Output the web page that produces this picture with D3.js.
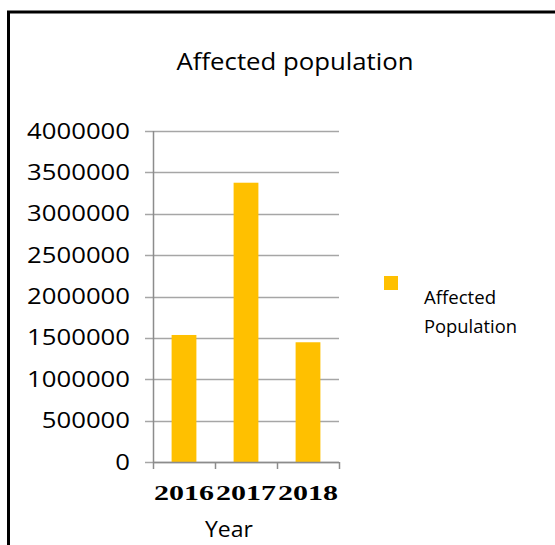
<!DOCTYPE html>
<meta charset="utf-8">
<script src="https://d3js.org/d3.v7.min.js"></script>
<style>
  body { margin: 0; background: #fff; }
  text { font-family: "Open Sans", "Liberation Sans", sans-serif; fill: #000; }
</style>
<div id="my_dataviz"></div>
<script>

// data
var years = ["2016", "2017", "2018"];
var affected = [1535000, 3375000, 1447000];
var yTicks = [0, 500000, 1000000, 1500000, 2000000, 2500000, 3000000, 3500000, 4000000];
var seriesName = ["Affected", "Population"];

var W = 555, H = 545;

var svg = d3.select("#my_dataviz")
  .append("svg")
    .attr("width", W)
    .attr("height", H);

// outer frame (runs off the right and bottom edges)
svg.append("rect")
  .attr("x", 8.5).attr("y", 12)
  .attr("width", 700).attr("height", 700)
  .attr("fill", "none")
  .attr("stroke", "#000")
  .attr("stroke-width", 3);

// plot area
var plot = {left: 153, right: 339, top: 131, bottom: 462};

var x = d3.scaleBand()
  .domain(years)
  .range([plot.left, plot.right])
  .paddingInner(0.6)
  .paddingOuter(0.3);

var y = d3.scaleLinear()
  .domain([0, 4000000])
  .range([plot.bottom, plot.top]);

// gridlines with outward tick on the left
svg.append("g")
  .selectAll("line")
  .data(yTicks)
  .join("line")
    .attr("x1", plot.left - 8)
    .attr("x2", plot.right)
    .attr("y1", function(d) { return Math.round(y(d)) + 0.5; })
    .attr("y2", function(d) { return Math.round(y(d)) + 0.5; })
    .attr("stroke", "#a6a6a6")
    .attr("stroke-width", 1.5);

// y tick labels
svg.append("g")
  .selectAll("text")
  .data(yTicks)
  .join("text")
    .attr("x", 130)
    .attr("y", function(d) { return y(d); })
    .attr("dy", "0.36em")
    .attr("text-anchor", "end")
    .style("font-size", "21px")
    .attr("textLength", function(d) { return String(d).length * 14.7; })
    .attr("lengthAdjust", "spacingAndGlyphs")
    .text(function(d) { return d; });

// bars
svg.append("g")
  .selectAll("rect")
  .data(affected)
  .join("rect")
    .attr("x", function(d, i) { return x(years[i]); })
    .attr("y", function(d) { return y(d); })
    .attr("width", x.bandwidth())
    .attr("height", function(d) { return plot.bottom - y(d); })
    .attr("fill", "#FFC000");

// y axis line
svg.append("line")
  .attr("x1", plot.left + 0.5).attr("x2", plot.left + 0.5)
  .attr("y1", plot.top).attr("y2", plot.bottom)
  .attr("stroke", "#8c8c8c")
  .attr("stroke-width", 1.5);

// x axis line and category boundary ticks
svg.append("line")
  .attr("x1", plot.left).attr("x2", plot.right)
  .attr("y1", plot.bottom + 0.5).attr("y2", plot.bottom + 0.5)
  .attr("stroke", "#8c8c8c")
  .attr("stroke-width", 1.5);

var step = (plot.right - plot.left) / years.length;
svg.append("g")
  .selectAll("line")
  .data(d3.range(years.length + 1))
  .join("line")
    .attr("x1", function(i) { return plot.left + i * step + 0.5; })
    .attr("x2", function(i) { return plot.left + i * step + 0.5; })
    .attr("y1", plot.bottom)
    .attr("y2", plot.bottom + 7)
    .attr("stroke", "#8c8c8c")
    .attr("stroke-width", 1.5);

// x tick labels (bold serif)
svg.append("g")
  .selectAll("text")
  .data(years)
  .join("text")
    .attr("x", function(d) { return x(d) + x.bandwidth() / 2; })
    .attr("y", 500)
    .attr("text-anchor", "middle")
    .style("font-family", "'Liberation Serif', serif")
    .style("font-weight", "bold")
    .style("font-size", "22px")
    .attr("textLength", 60)
    .attr("lengthAdjust", "spacingAndGlyphs")
    .text(function(d) { return d; });

// title
svg.append("text")
  .attr("x", 295)
  .attr("y", 70)
  .attr("text-anchor", "middle")
  .style("font-size", "24px")
  .attr("textLength", 237)
  .attr("lengthAdjust", "spacingAndGlyphs")
  .text("Affected population");

// x axis title
svg.append("text")
  .attr("x", 229)
  .attr("y", 537)
  .attr("text-anchor", "middle")
  .style("font-size", "21px")
  .attr("textLength", 48)
  .attr("lengthAdjust", "spacingAndGlyphs")
  .text("Year");

// legend
svg.append("rect")
  .attr("x", 384).attr("y", 276)
  .attr("width", 14).attr("height", 14)
  .attr("fill", "#FFC000");

svg.append("g")
  .selectAll("text")
  .data(seriesName)
  .join("text")
    .attr("x", 424)
    .attr("y", function(d, i) { return 304 + i * 29; })
    .style("font-size", "18px")
    .attr("textLength", function(d, i) { return i === 0 ? 72 : 93; })
    .attr("lengthAdjust", "spacingAndGlyphs")
    .text(function(d) { return d; });

</script>
